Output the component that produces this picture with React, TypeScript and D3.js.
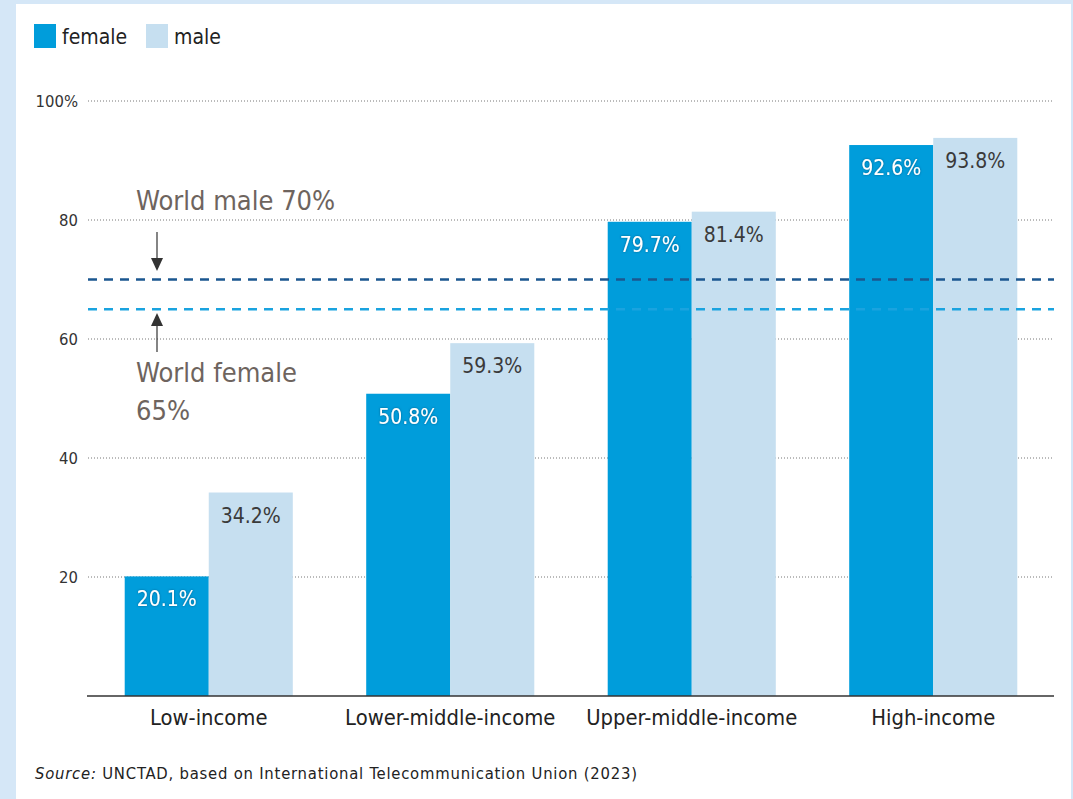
import React from "react";
import * as d3 from "d3";

const categories = ["Low-income", "Lower-middle-income", "Upper-middle-income", "High-income"];
const series = ["female", "male"];
const femaleValues = [20.1, 50.8, 79.7, 92.6];
const maleValues = [34.2, 59.3, 81.4, 93.8];
const yTicks = [20, 40, 60, 80, 100];
const worldMale = 70;
const worldFemale = 65;

const W = 1073;
const H = 799;
const FONT = "'Liberation Sans Narrow', 'DejaVu Sans Condensed', 'Roboto Condensed', 'Liberation Sans', sans-serif";
const FEMALE = "#009ddb";
const MALE = "#c6dff0";
const DARK_LINE = "#1b5790";
const LIGHT_LINE = "#1aa3df";
const ANNOT = "#6e645e";

export default function App() {
  const x0 = d3.scaleBand<string>().domain(categories).range([88, 1054]).paddingInner(0.304).paddingOuter(0.152);
  const x1 = d3.scaleBand<string>().domain(series).range([0, x0.bandwidth()]);
  const y = d3.scaleLinear().domain([0, 100]).range([696, 101]);
  const values: Record<string, number[]> = { female: femaleValues, male: maleValues };
  const color: Record<string, string> = { female: FEMALE, male: MALE };

  return (
    <svg width={W} height={H} style={{ position: "absolute", left: 0, top: 0 }} fontFamily={FONT}>
      <defs>
        <filter id="glow" x="-20%" y="-40%" width="140%" height="180%">
          <feDropShadow dx="0" dy="0" stdDeviation="1.2" floodColor="#004a70" floodOpacity="0.7" />
        </filter>
      </defs>
      <rect x={0} y={0} width={W} height={H} fill="#d5e7f7" />
      <rect x={16} y={4} width={1055} height={H - 4} fill="#ffffff" />

      {/* legend */}
      <rect x={34} y={24} width={22} height={24} fill={FEMALE} />
      <text x={62} y={44} fontSize={21} fill="#222">female</text>
      <rect x={146} y={24} width={22} height={24} fill={MALE} />
      <text x={174} y={44} fontSize={21} fill="#222">male</text>

      {/* grid */}
      {yTicks.map((t) => (
        <g key={t}>
          <line x1={88} x2={1054} y1={y(t)} y2={y(t)} stroke="#777" strokeWidth={1} strokeDasharray="1,2" />
          <text x={78} y={y(t) + 5.5} fontSize={16.5} textAnchor="end" fill="#333">
            {t === 100 ? "100%" : t}
          </text>
        </g>
      ))}

      {/* bars */}
      {categories.map((c, i) => (
        <g key={c} transform={`translate(${x0(c)},0)`}>
          {series.map((s) => {
            const v = values[s][i];
            return (
              <rect key={s} x={x1(s)} y={y(v)} width={x1.bandwidth()} height={y(0) - y(v)} fill={color[s]} />
            );
          })}
        </g>
      ))}

      {/* world lines */}
      <line x1={88} x2={1054} y1={y(worldMale)} y2={y(worldMale)} stroke={DARK_LINE} strokeWidth={2.5} strokeDasharray="9,7" />
      <line x1={88} x2={1054} y1={y(worldFemale)} y2={y(worldFemale)} stroke={LIGHT_LINE} strokeWidth={2.5} strokeDasharray="9,7" />

      {/* bar labels */}
      {categories.map((c, i) => (
        <g key={c} transform={`translate(${x0(c)},0)`}>
          {series.map((s) => {
            const v = values[s][i];
            return (
              <text
                key={s}
                x={(x1(s) as number) + x1.bandwidth() / 2}
                y={y(v) + 30}
                textAnchor="middle"
                fontSize={21}
                fill={s === "female" ? "#ffffff" : "#3a3a3a"}
                filter={s === "female" ? "url(#glow)" : undefined}
              >
                {v.toFixed(1)}%
              </text>
            );
          })}
        </g>
      ))}

      {/* baseline */}
      <line x1={87} x2={1054} y1={y(0)} y2={y(0)} stroke="#333" strokeWidth={1.5} />

      {/* category labels */}
      {categories.map((c) => (
        <text key={c} x={(x0(c) as number) + x0.bandwidth() / 2} y={725} textAnchor="middle" fontSize={21.8} fill="#222">
          {c}
        </text>
      ))}

      {/* annotations */}
      <text x={136} y={210} fontSize={27} fill={ANNOT}>World male 70%</text>
      <line x1={157} x2={157} y1={232} y2={262} stroke="#333" strokeWidth={1.2} />
      <path d="M151,258 L163,258 L157,271 Z" fill="#333" />
      <line x1={157} x2={157} y1={322} y2={352} stroke="#333" strokeWidth={1.2} />
      <path d="M151,326 L163,326 L157,313 Z" fill="#333" />
      <text x={136} y={382} fontSize={27} fill={ANNOT}>World female</text>
      <text x={136} y={420} fontSize={27} fill={ANNOT}>65%</text>

      {/* source */}
      <text x={35} y={779} fontSize={16.5} fill="#222" fontFamily="'DejaVu Sans Condensed', sans-serif" textLength={602} lengthAdjust="spacing">
        <tspan fontStyle="italic">Source:</tspan> UNCTAD, based on International Telecommunication Union (2023)
      </text>
    </svg>
  );
}
